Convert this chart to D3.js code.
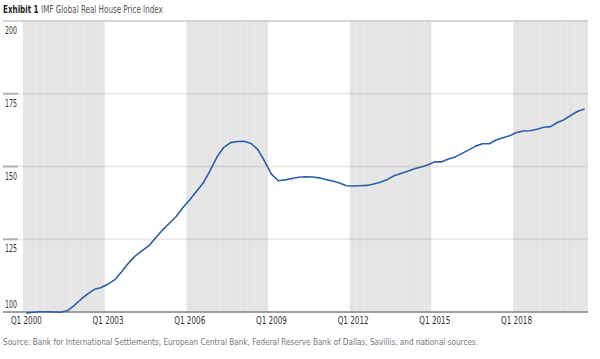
<!DOCTYPE html>
<html>
<head>
<meta charset="utf-8">
<script src="https://cdn.jsdelivr.net/npm/d3@7"></script>
<style>
  body { margin: 0; background: #fff; }
  text { font-family: "Liberation Sans Narrow", "Arial Narrow", "DejaVu Sans Condensed", sans-serif; }
</style>
</head>
<body>
<div id="chart"></div>
<script>
// quarterly index, Q1 2000 .. Q3 2020
var startYear = 2000;
var houseIndex = [
  99.6, 99.9, 100.1, 100.1, 100.0, 99.9, 100.4, 102.2, 104.3, 106.2, 107.8, 108.4,
  109.6, 111.1, 113.8, 116.8, 119.3, 121.1, 122.8, 125.5, 128.2, 130.5, 132.8, 135.9,
  138.6, 141.5, 144.4, 148.7, 153.3, 156.6, 158.2, 158.6, 158.7, 157.9, 155.8, 151.8,
  147.4, 145.1, 145.4, 145.9, 146.3, 146.5, 146.4, 146.1, 145.5, 145.0, 144.3, 143.4,
  143.3, 143.4, 143.5, 144.0, 144.6, 145.5, 146.8, 147.6, 148.4, 149.2, 149.8, 150.6,
  151.6, 151.6, 152.6, 153.3, 154.5, 155.7, 157.0, 157.8, 157.8, 159.1, 159.9, 160.6,
  161.7, 162.2, 162.3, 162.8, 163.5, 163.7, 165.1, 166.1, 167.6, 169.0, 169.8
];
var quarters = houseIndex.map(function(d, i) {
  return "Q" + (i % 4 + 1) + " " + (startYear + Math.floor(i / 4));
});
var xTickLabels = ["Q1 2000", "Q1 2003", "Q1 2006", "Q1 2009", "Q1 2012", "Q1 2015", "Q1 2018"];
var yTicks = [100, 125, 150, 175, 200];
// shaded periods (alternate three-year blocks)
var shadedStart = ["Q1 2000", "Q1 2006", "Q1 2012", "Q1 2018"];

var width = 600, height = 359;
var svg = d3.select("#chart").append("svg")
  .attr("width", width)
  .attr("height", height);

var x = d3.scaleBand()
  .domain(quarters)
  .range([23, 588])
  .padding(0);

var y = d3.scaleLinear()
  .domain([100, 200])
  .range([312, 21]);

// shading columns
var shaded = quarters.filter(function(q, i) {
  var blockStart = quarters[Math.floor(i / 12) * 12];
  return shadedStart.indexOf(blockStart) >= 0;
});
svg.append("g")
  .selectAll("rect")
  .data(shaded)
  .enter()
  .append("rect")
  .attr("x", function(d) { return x(d); })
  .attr("width", x.bandwidth())
  .attr("y", y(200))
  .attr("height", y(100) - y(200))
  .attr("fill", "#e5e5e5");

// grid lines
var grid = svg.append("g");
yTicks.forEach(function(t) {
  if (t == 100) return;
  grid.append("line")
    .attr("x1", 18).attr("x2", 588)
    .attr("y1", y(t)).attr("y2", y(t))
    .attr("stroke", t == 200 ? "#c8c8c8" : "rgba(0,0,0,0.08)")
    .attr("stroke-width", t == 200 ? 1.5 : 2);
  grid.append("line")
    .attr("x1", 3).attr("x2", 18)
    .attr("y1", y(t)).attr("y2", y(t))
    .attr("stroke", t == 200 ? "#c8c8c8" : "#b0b0b0")
    .attr("stroke-width", t == 200 ? 1.5 : 2);
});

// y labels
svg.append("g")
  .selectAll("text")
  .data(yTicks)
  .enter()
  .append("text")
  .attr("x", 5)
  .attr("y", function(d) { return d == 100 ? y(d) - 4 : y(d) + 13; })
  .attr("font-size", 10.5)
  .attr("textLength", 12)
  .attr("lengthAdjust", "spacingAndGlyphs")
  .attr("fill", "#333")
  .text(function(d) { return d; });

// base axis
svg.append("line")
  .attr("x1", 3).attr("x2", 588)
  .attr("y1", y(100)).attr("y2", y(100))
  .attr("stroke", "#808080")
  .attr("stroke-width", 1.5);

// x labels
svg.append("g")
  .selectAll("text")
  .data(xTickLabels)
  .enter()
  .append("text")
  .attr("x", function(d) { return x(d) + x.bandwidth() / 2 - 15.5; })
  .attr("y", 324)
  .attr("font-size", 10.5)
  .attr("textLength", 31)
  .attr("lengthAdjust", "spacingAndGlyphs")
  .attr("fill", "#333")
  .text(function(d) { return d; });

// the index line
var line = d3.line()
  .x(function(d, i) { return x(quarters[i]) + x.bandwidth() / 2; })
  .y(function(d) { return y(d); });

svg.append("path")
  .datum(houseIndex)
  .attr("d", line)
  .attr("fill", "none")
  .attr("stroke", "#2b5eab")
  .attr("stroke-width", 1.6)
  .attr("stroke-linejoin", "round");

// title (horizontally squeezed to mimic a condensed face)
var title = svg.append("g")
  .attr("transform", "translate(3,13) scale(0.76,1)")
  .append("text")
  .attr("x", 0)
  .attr("y", 0)
  .attr("font-size", 10.5);
title.append("tspan")
  .attr("font-weight", "bold")
  .attr("fill", "#222")
  .text("Exhibit 1 ");
title.append("tspan")
  .attr("fill", "#555")
  .text("IMF Global Real House Price Index");

// source
svg.append("text")
  .attr("x", 3)
  .attr("y", 345)
  .attr("font-size", 9.5)
  .attr("textLength", 475)
  .attr("lengthAdjust", "spacingAndGlyphs")
  .attr("fill", "#777")
  .text("Source: Bank for International Settlements, European Central Bank, Federal Reserve Bank of Dallas, Savillis, and national sources.");
</script>
</body>
</html>
